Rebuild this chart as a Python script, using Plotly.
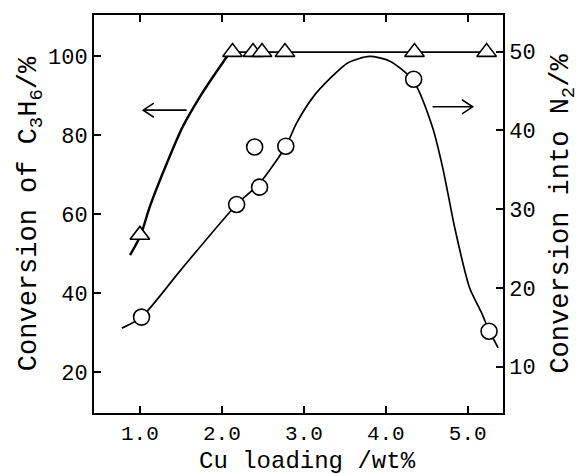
import plotly.graph_objects as go

# Triangles: conversion of C3H6 (left axis)
tri_x = [1.0, 2.13, 2.38, 2.49, 2.77, 4.35, 5.23]
tri_y = [54.7, 101.0, 101.0, 101.0, 101.0, 101.0, 101.0]
# fitted curve for C3H6 (rising part and plateau)
tri_curve_x = [0.88, 1.01, 1.12, 1.33, 1.52, 1.73, 1.89, 2.05, 2.10]
tri_curve_y = [49.6, 54.7, 61.8, 72.9, 82.0, 89.6, 94.7, 99.5, 101.0]
tri_flat_x = [2.10, 5.23]
tri_flat_y = [101.0, 101.0]

# Circles: conversion into N2 (right axis)
cir_x = [1.02, 2.18, 2.40, 2.46, 2.78, 4.34, 5.26]
cir_y = [16.3, 30.6, 37.9, 32.8, 38.0, 46.5, 14.5]
cir_curve_x = [0.78, 1.02, 1.50, 2.18, 2.46, 2.78, 2.91, 3.11, 3.32, 3.54, 3.80, 4.05,
               4.33, 4.57, 4.70, 4.84, 5.02, 5.17, 5.26, 5.37]
cir_curve_y = [14.9, 16.3, 22.3, 30.6, 33.3, 38.0, 40.9, 44.2, 46.6, 48.6, 49.4, 48.8,
               46.4, 40.4, 35.0, 27.7, 20.1, 16.8, 14.6, 12.4]

x_ticks = [1, 2, 3, 4, 5]
x_ticklabels = ["1.0", "2.0", "3.0", "4.0", "5.0"]
y_ticks = [20, 40, 60, 80, 100]
y2_ticks = [10, 20, 30, 40, 50]

x_title = "Cu loading /wt%"
y_title = "Conversion of C<sub>3</sub>H<sub>6</sub>/%"
y2_title = "Conversion into N<sub>2</sub>/%"

# arrow annotations (tail -> head)
left_arrow = dict(x0=1.57, x1=1.04, y=86.3)
right_arrow = dict(x0=4.57, x1=5.06, y=43.0)

FONT = "Liberation Mono"
TICKFONT = dict(family=FONT, size=22, color="black")
XTICKFONT = dict(family=FONT, size=21, color="black")
TITLEFONT = dict(family=FONT, size=27, color="black")
fig = go.Figure()

fig.add_trace(go.Scatter(x=tri_curve_x, y=tri_curve_y, mode="lines",
                         line=dict(color="black", width=2.4, shape="spline", smoothing=0.8),
                         showlegend=False))
fig.add_trace(go.Scatter(x=tri_flat_x, y=tri_flat_y, mode="lines",
                         line=dict(color="black", width=1.6), showlegend=False))
fig.add_trace(go.Scatter(x=cir_curve_x, y=cir_curve_y, mode="lines", yaxis="y2",
                         line=dict(color="black", width=1.7, shape="spline", smoothing=0.7),
                         showlegend=False))
fig.add_trace(go.Scatter(x=tri_x, y=tri_y, mode="markers",
                         marker=dict(symbol="triangle-up", size=17, color="white",
                                     line=dict(color="black", width=1.6)),
                         showlegend=False))
fig.add_trace(go.Scatter(x=cir_x, y=cir_y, mode="markers", yaxis="y2",
                         marker=dict(symbol="circle", size=16, color="white",
                                     line=dict(color="black", width=1.6)),
                         showlegend=False))

# arrows drawn as open-headed line shapes
def arrow(a, yref, dx, dy):
    sgn = 1 if a["x0"] > a["x1"] else -1
    hx = a["x1"] + sgn * dx
    path = (f"M {a['x0']} {a['y']} L {a['x1']} {a['y']} "
            f"M {hx} {a['y'] + dy} L {a['x1']} {a['y']} L {hx} {a['y'] - dy}")
    fig.add_shape(type="path", path=path, xref="x", yref=yref,
                  line=dict(color="black", width=1.6))

arrow(left_arrow, "y", 0.13, 1.8)
arrow(right_arrow, "y2", 0.13, 0.9)

fig.add_annotation(text=x_title, xref="paper", yref="paper", x=0.523, y=-0.121,
                   xanchor="center", yanchor="middle", showarrow=False,
                   font=dict(family=FONT, size=24, color="black"))

fig.update_layout(
    width=580, height=474,
    margin=dict(l=94, r=77, t=15, b=61),
    paper_bgcolor="white", plot_bgcolor="white",
    font=dict(family=FONT, size=22, color="black"),
    xaxis=dict(range=[0.44, 5.43], tickvals=x_ticks, ticktext=x_ticklabels,
               automargin=False, tickfont=XTICKFONT,
               showline=True, linecolor="black", linewidth=2, mirror="ticks",
               ticks="inside", ticklen=7, tickwidth=2, tickcolor="black",
               showgrid=False, zeroline=False),
    yaxis=dict(range=[9.6, 110.4], tickvals=y_ticks, automargin=False, tickfont=TICKFONT,
               showline=True, linecolor="black", linewidth=2,
               ticks="inside", ticklen=7, tickwidth=2, tickcolor="black",
               showgrid=False, zeroline=False,
               title=dict(text=y_title, standoff=0, font=TITLEFONT)),
    yaxis2=dict(range=[4.12, 54.66], tickvals=y2_ticks, overlaying="y", side="right",
                automargin=False, tickfont=TICKFONT,
                showline=True, linecolor="black", linewidth=1.6,
                ticks="inside", ticklen=7, tickwidth=2, tickcolor="black",
                showgrid=False, zeroline=False,
                title=dict(text=y2_title, standoff=16, font=TITLEFONT)),
)

fig.write_html("out.html", config={"displayModeBar": False},
               post_script="document.body.style.margin='0';document.body.style.overflow='hidden';")
